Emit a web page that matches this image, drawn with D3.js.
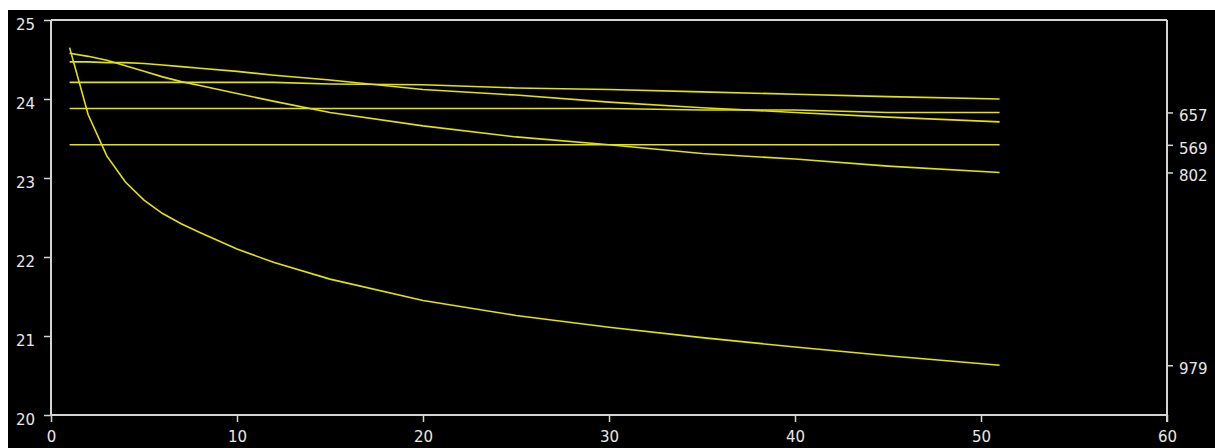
<!DOCTYPE html>
<html>
<head>
<meta charset="utf-8">
<script src="https://cdn.jsdelivr.net/npm/d3@7"></script>
<style>
  html, body { margin: 0; padding: 0; background: #ffffff; }
  svg { display: block; }
  text { font-family: "DejaVu Sans", sans-serif; }
</style>
</head>
<body>
<svg id="chart" width="1215" height="448"></svg>
<script>
// ---- data ----
const xs = [1, 2, 3, 4, 5, 6, 7, 8, 10, 12, 15, 20, 25, 30, 35, 40, 45, 51];
const curveF = [24.65, 23.80, 23.28, 22.95, 22.72, 22.55, 22.42, 22.31, 22.10, 21.93, 21.72, 21.45, 21.26, 21.11, 20.98, 20.86, 20.75, 20.63];
const lineA  = [24.58, 24.54, 24.49, 24.42, 24.35, 24.28, 24.22, 24.17, 24.07, 23.97, 23.83, 23.66, 23.52, 23.42, 23.31, 23.24, 23.15, 23.07];
const lineB  = [24.47, 24.47, 24.46, 24.46, 24.45, 24.43, 24.41, 24.39, 24.35, 24.30, 24.24, 24.12, 24.05, 23.96, 23.89, 23.83, 23.77, 23.71];
const lineC  = [24.21, 24.21, 24.21, 24.21, 24.21, 24.21, 24.21, 24.21, 24.21, 24.21, 24.19, 24.18, 24.14, 24.12, 24.09, 24.06, 24.03, 24.00];
const lineD  = [23.88, 23.88, 23.88, 23.88, 23.88, 23.88, 23.88, 23.88, 23.88, 23.88, 23.88, 23.88, 23.88, 23.88, 23.86, 23.86, 23.83, 23.83];
const lineE  = [23.42, 23.42, 23.42, 23.42, 23.42, 23.42, 23.42, 23.42, 23.42, 23.42, 23.42, 23.42, 23.42, 23.42, 23.42, 23.42, 23.42, 23.42];
const seriesList = [curveF, lineA, lineB, lineC, lineD, lineE];

const xTicks = [0, 10, 20, 30, 40, 50, 60];
const yTicks = [20, 21, 22, 23, 24, 25];
const rightLabels = ["657", "569", "802", "979"];
const rightValues = [lineD[lineD.length - 1], lineE[lineE.length - 1], lineA[lineA.length - 1], curveF[curveF.length - 1]];

// ---- layout ----
const svg = d3.select("#chart");
const W = 1215, H = 448;
const plot = { left: 51, right: 1167, top: 20, bottom: 415 };
const axisColor = "#d4d4d4";
const textColor = "#e8e8e8";
const lineColor = "#e4e400";

svg.append("rect").attr("x", 8).attr("y", 10).attr("width", W - 8).attr("height", H - 10).attr("fill", "#000");

const x = d3.scaleLinear().domain([0, 60]).range([plot.left, plot.right]);
const y = d3.scaleLinear().domain([20, 25]).range([plot.bottom, plot.top]);

// left axis
const gl = svg.append("g").attr("transform", `translate(${plot.left},0)`)
  .call(d3.axisLeft(y).tickValues(yTicks).tickFormat(d3.format("d")).tickSize(7).tickPadding(9));
// bottom axis
const gb = svg.append("g").attr("transform", `translate(0,${plot.bottom})`)
  .call(d3.axisBottom(x).tickValues(xTicks).tickFormat(d3.format("d")).tickSize(7).tickPadding(9));
// right axis
const gr = svg.append("g").attr("transform", `translate(${plot.right},0)`)
  .call(d3.axisRight(y).tickValues(rightValues).tickFormat((d, i) => rightLabels[i]).tickSize(6).tickPadding(6));

[gl, gb, gr].forEach(g => {
  g.selectAll(".domain").remove();
  g.selectAll("line").attr("stroke", axisColor).attr("stroke-width", 1.5);
  g.selectAll("text").attr("fill", textColor).attr("font-size", 15).attr("font-family", "DejaVu Sans, sans-serif");
});
gl.selectAll("text").attr("dy", "0.62em");
gr.selectAll("text").attr("dy", "0.55em");

// frame lines
const frame = svg.append("g").attr("stroke", axisColor).attr("stroke-width", 2).attr("fill", "none");
frame.append("line").attr("x1", x(0)).attr("x2", x(0)).attr("y1", y(25)).attr("y2", y(20));
frame.append("line").attr("x1", x(0)).attr("x2", x(60)).attr("y1", y(20)).attr("y2", y(20));
frame.append("line").attr("x1", x(0)).attr("x2", x(60)).attr("y1", y(25)).attr("y2", y(25));
frame.append("line").attr("x1", x(60)).attr("x2", x(60)).attr("y1", y(25)).attr("y2", y(20) + 7);

// series
const line = d3.line().x((d, i) => x(xs[i])).y(d => y(d));
svg.append("g").selectAll("path").data(seriesList).join("path")
  .attr("d", d => line(d))
  .attr("fill", "none")
  .attr("stroke", lineColor)
  .attr("stroke-width", 1.6);
</script>
</body>
</html>
